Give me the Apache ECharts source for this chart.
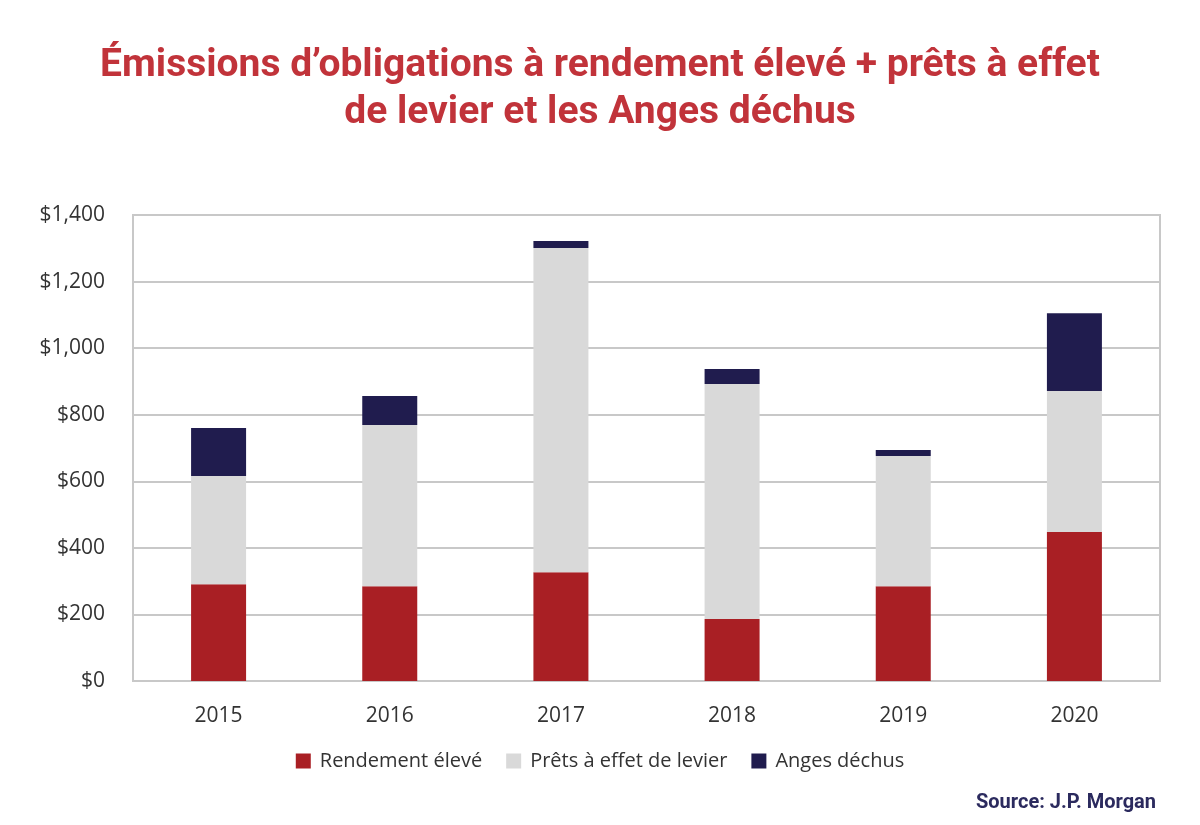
<!DOCTYPE html>
<html><head><meta charset="utf-8">
<script src="https://cdn.jsdelivr.net/npm/echarts@6/dist/echarts.min.js"></script>
<style>html,body{margin:0;padding:0;background:#fff}#c{width:1200px;height:825px}</style>
</head><body><div id="c"></div>
<script>
const categories = ['2015','2016','2017','2018','2019','2020'];
const highYield = [291, 285, 327, 186, 285, 448];
const leveragedLoans = [325, 484, 974, 706, 391, 423];
const fallenAngels = [144, 87, 21, 45, 18, 234];
const yTicks = [0, 200, 400, 600, 800, 1000, 1200, 1400];

const chart = echarts.init(document.getElementById('c'));
const font = 'Open Sans';
chart.setOption({
  backgroundColor: '#fff',
  animation: false,
  title: [{
    text: 'Émissions d’obligations à rendement élevé + prêts à effet\nde levier et les Anges déchus',
    left: 'center', top: 38,
    textStyle: {color: '#C1333A', fontFamily: 'Roboto', fontWeight: 'bold', fontSize: 39, lineHeight: 47}
  }, {
    text: 'Source: J.P. Morgan',
    right: 39, top: 788,
    textStyle: {color: '#2B2A5E', fontFamily: 'Roboto', fontWeight: 'bold', fontSize: 20}
  }],
  legend: {
    bottom: 49, left: 'center',
    icon: 'rect',
    itemWidth: 15, itemHeight: 15, itemGap: 24,
    textStyle: {fontFamily: font, fontSize: 20, color: '#333', padding: [0, 0, 0, 4]},
    data: ['Rendement élevé', 'Prêts à effet de levier', 'Anges déchus']
  },
  grid: {left: 133, right: 40, top: 215, bottom: 144, show: true, borderColor: '#c8c8c8', borderWidth: 2},
  xAxis: {
    type: 'category', data: categories,
    axisLine: {show: true, lineStyle: {color: '#c8c8c8', width: 2}},
    axisTick: {show: false},
    axisLabel: {fontFamily: font, fontSize: 21, color: '#333', margin: 25}
  },
  yAxis: {
    type: 'value', min: 0, max: 1400, interval: 200,
    axisLine: {show: false}, axisTick: {show: false},
    splitLine: {lineStyle: {color: '#c8c8c8', width: 2}},
    axisLabel: {fontFamily: font, fontSize: 21, color: '#333', margin: 28,
      formatter: v => yTicks.includes(v) ? '$' + v.toLocaleString('en-US') : ''}
  },
  series: [
    {name: 'Rendement élevé', type: 'bar', stack: 't', data: highYield, barWidth: 55,
     itemStyle: {color: '#A91F24'}},
    {name: 'Prêts à effet de levier', type: 'bar', stack: 't', data: leveragedLoans,
     itemStyle: {color: '#D9D9D9'}},
    {name: 'Anges déchus', type: 'bar', stack: 't', data: fallenAngels,
     itemStyle: {color: '#201C4E'}}
  ]
});
</script></body></html>
